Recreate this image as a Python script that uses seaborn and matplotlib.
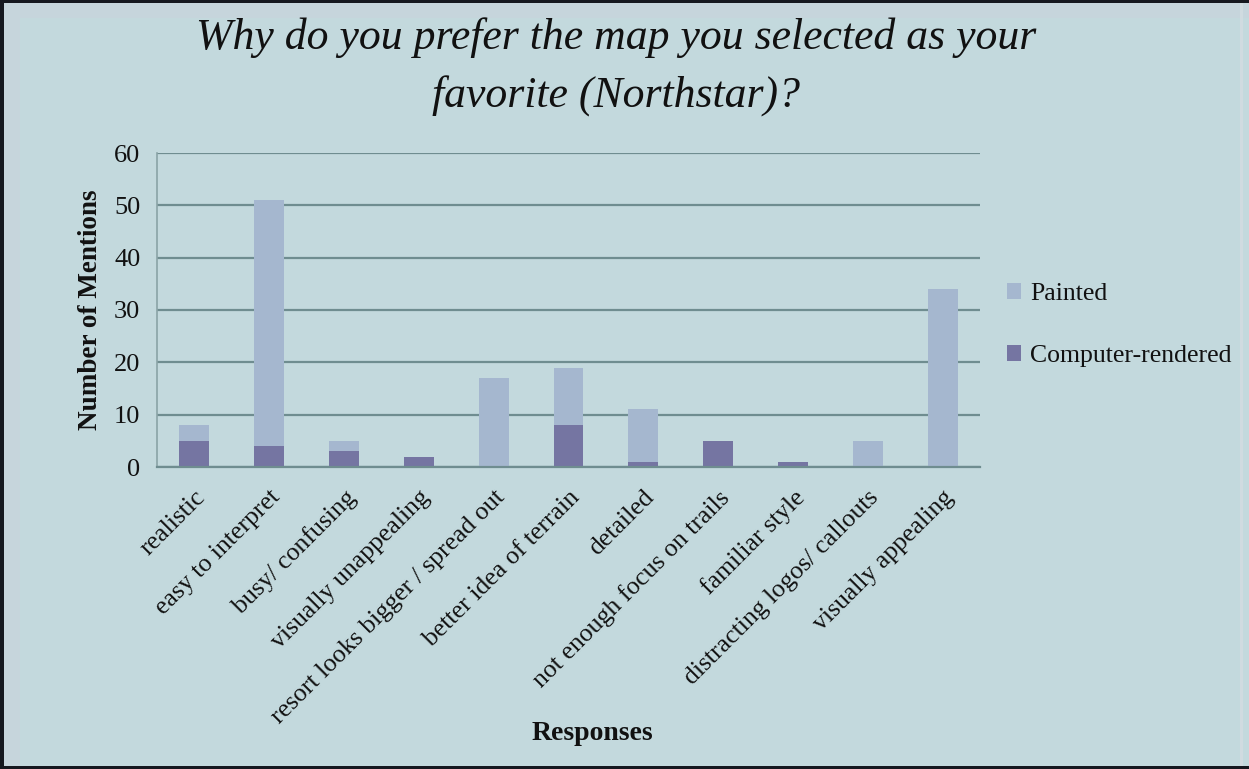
import matplotlib
matplotlib.use("Agg")
import matplotlib.pyplot as plt
from matplotlib.patches import Rectangle, Patch
from matplotlib.ticker import FixedLocator
import numpy as np
import pandas as pd
import seaborn as sns

responses = [
    "realistic", "easy to interpret", "busy/ confusing", "visually unappealing",
    "resort looks bigger / spread out", "better idea of terrain", "detailed",
    "not enough focus on trails", "familiar style", "distracting logos/ callouts",
    "visually appealing",
]
painted = [3, 47, 2, 0, 17, 11, 10, 0, 0, 5, 34]
computer_rendered = [5, 4, 3, 2, 0, 8, 1, 5, 1, 0, 0]
y_ticks = [0, 10, 20, 30, 40, 50, 60]

BG = "#C3D9DD"
PAINTED_C = "#A5B7CF"
COMPUTER_C = "#7575A2"
GRID_C = "#6F8D90"
AXIS_C = "#8AA3A6"
TEXT_C = "#111111"
SERIF = ["Liberation Serif", "DejaVu Serif"]

sns.set_theme(style="white")
plt.rcParams["font.family"] = SERIF

df = pd.DataFrame({
    "response": responses,
    "Painted": painted,
    "Computer-rendered": computer_rendered,
})
df["total"] = df["Painted"] + df["Computer-rendered"]

W, H = 1249, 769
fig = plt.figure(figsize=(W / 100, H / 100), dpi=100, facecolor=BG)

# faint bands along the top and left edges, dark frame lines
fig.patches.append(Rectangle((0, 1 - 18 / H), 1, 18 / H, transform=fig.transFigure,
                             facecolor="#C6D5DC", edgecolor="none", zorder=0))
fig.patches.append(Rectangle((0, 0), 20 / W, 1, transform=fig.transFigure,
                             facecolor="#C6D5DC", edgecolor="none", zorder=0))
fig.patches.append(Rectangle((1240 / W, 0), 3 / W, 1, transform=fig.transFigure,
                             facecolor="#D0DBE0", edgecolor="none", zorder=0))
for (x0, y0, w, h) in [(0, 1 - 3 / H, 1, 3 / H), (0, 0, 4 / W, 1),
                       (0, 0, 1, 3 / H)]:
    fig.patches.append(Rectangle((x0, y0), w, h, transform=fig.transFigure,
                                 facecolor="#15181F", edgecolor="none", zorder=10))

ax = fig.add_axes([157 / W, 1 - 467 / H, (980 - 157) / W, (467 - 153) / H])
ax.set_facecolor(BG)

# stacked columns: full stack in the light colour, computer-rendered base on top
sns.barplot(data=df, x="response", y="total", color=PAINTED_C, width=0.4,
            saturation=1, linewidth=0, ax=ax, zorder=3)
sns.barplot(data=df, x="response", y="Computer-rendered", color=COMPUTER_C,
            width=0.4, saturation=1, linewidth=0, ax=ax, zorder=4)

n = len(responses)
ax.set_xlim(-0.5, n - 0.5)
ax.set_ylim(0, 60)
ax.set_yticks(y_ticks)
ax.yaxis.grid(True, color=GRID_C, linewidth=1.6, zorder=1)
ax.xaxis.grid(False)

for s in ["top", "right"]:
    ax.spines[s].set_visible(False)
ax.spines["left"].set_color(AXIS_C)
ax.spines["left"].set_linewidth(1.2)
ax.spines["bottom"].set_color(GRID_C)
ax.spines["bottom"].set_linewidth(1.6)
ax.spines["bottom"].set_zorder(5)

ax.tick_params(axis="y", which="major", length=6, width=1, color=AXIS_C,
               direction="out", labelsize=19, labelcolor=TEXT_C, pad=6)
ax.set_xticks(range(n))
ax.set_xticklabels(responses, rotation=45, ha="right", va="top",
                   rotation_mode="anchor")
ax.tick_params(axis="x", which="major", length=0, labelsize=18.5,
               labelcolor=TEXT_C, pad=14)
ax.xaxis.set_minor_locator(FixedLocator(np.arange(-0.5, n, 1.0)))
ax.tick_params(axis="x", which="minor", length=6, width=1, color=AXIS_C,
               direction="out")
ax.set_xlabel("")

ax.set_ylabel("Number of Mentions", fontsize=19.5, fontweight="bold",
              color=TEXT_C, labelpad=8)

fig.text(592 / W, 1 - 733 / H, "Responses", fontsize=20,
         fontweight="bold", color=TEXT_C, ha="center", va="center")

fig.text(616 / W, 1 - 38 / H, "Why do you prefer the map you selected as your",
         fontsize=31.5, style="italic", color=TEXT_C, ha="center", va="center")
fig.text(616 / W, 1 - 96 / H, "favorite (Northstar)?",
         fontsize=31.5, style="italic", color=TEXT_C, ha="center", va="center")

handles = [Patch(facecolor=PAINTED_C, edgecolor="none", label="Painted"),
           Patch(facecolor=COMPUTER_C, edgecolor="none", label="Computer-rendered")]
leg = fig.legend(handles=handles, loc="center left",
                 bbox_to_anchor=(997 / W, 1 - 325 / H), frameon=False,
                 fontsize=18.5, handlelength=0.55, handleheight=0.55,
                 handletextpad=0.35, labelspacing=1.55, borderaxespad=0)
for t in leg.get_texts():
    t.set_color(TEXT_C)

fig.savefig("out.png", dpi=100, facecolor=BG)
